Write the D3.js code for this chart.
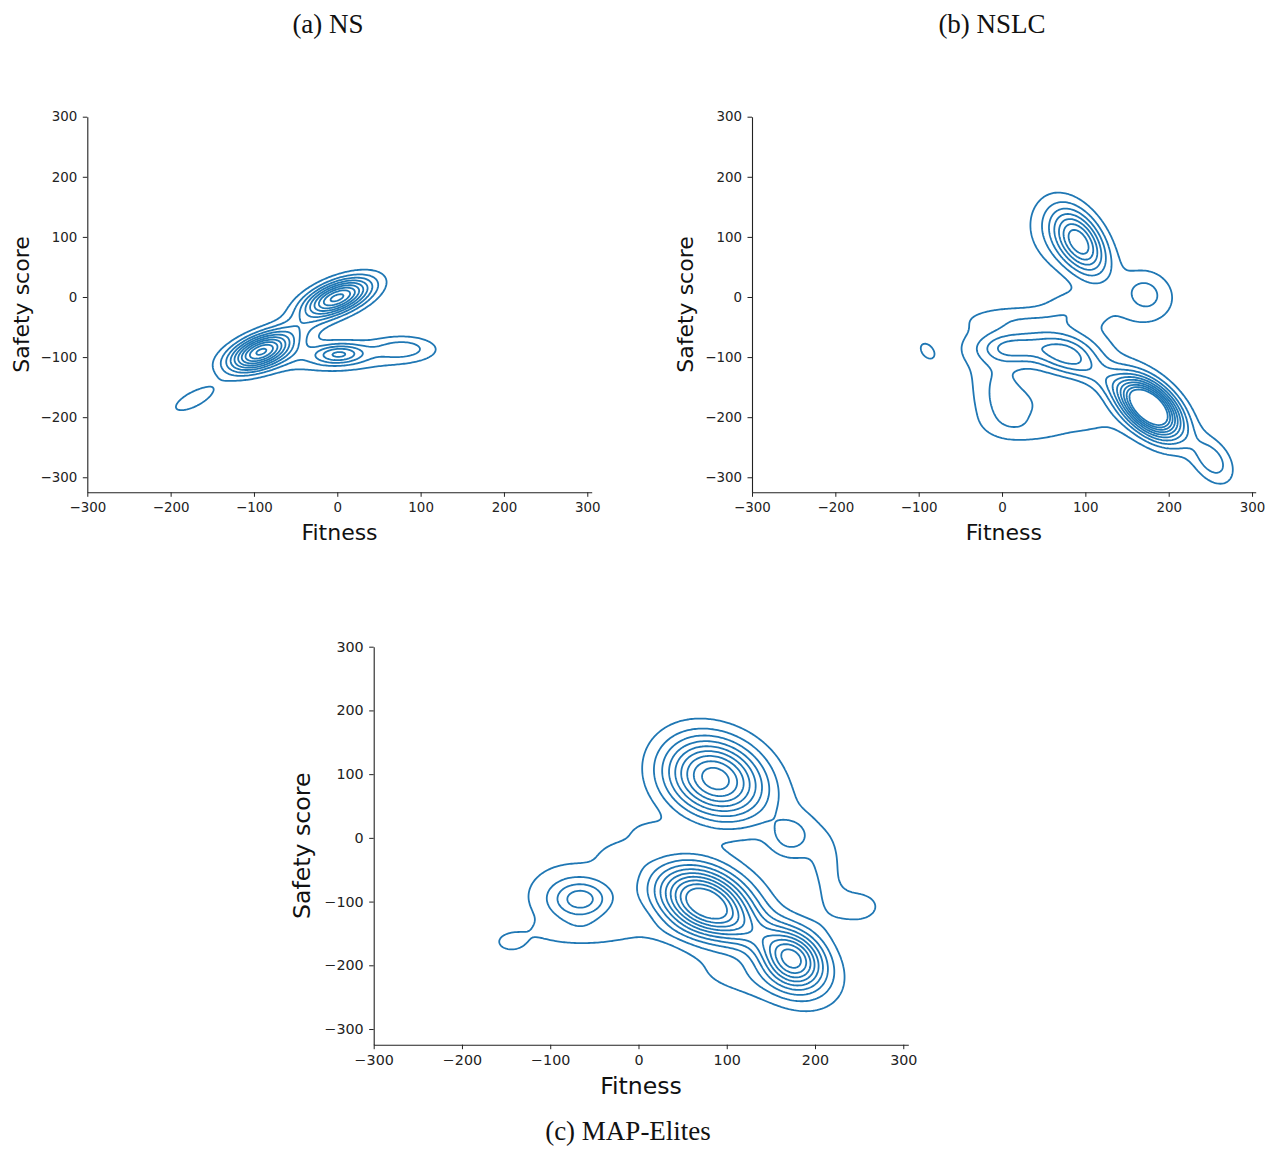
<!DOCTYPE html>
<html>
<head>
<meta charset="utf-8">
<script src="https://cdn.jsdelivr.net/npm/d3@7"></script>
<style>
  body { margin: 0; background: #fff; }
  svg { display: block; }
</style>
</head>
<body>
<script>
// tick labels shared by all three panels
var xTicks = [-300, -200, -100, 0, 100, 200, 300];
var yTicks = [-300, -200, -100, 0, 100, 200, 300];

// density bumps: [fitness, safety, sdFitness, sdSafety, corr, height]
var nsPeaks = [
    [-92, -91, 26, 22, 0.5, 0.95],
    [0, -1, 28, 22, 0.55, 0.93],
    [2, -95, 20, 11, 0.1, 0.36],
    [80, -85, 26, 14, 0.0, 0.2],
    [-5, -100, 70, 20, 0.1, 0.17],
    [-45, -50, 25, 20, 0.5, 0.12],
    [-172, -170, 20, 17, 0.7, 0.18]
];
var nslcPeaks = [
    [94, 90, 22, 38, -0.45, 0.72],
    [62, 105, 28, 45, -0.2, 0.14],
    [172, 6, 18, 24, -0.1, 0.15],
    [170, -5, 40, 45, 0.0, 0.1],
    [85, -15, 25, 20, 0.0, 0.12],
    [76, -95, 28, 24, -0.2, 0.36],
    [10, -85, 25, 16, 0.0, 0.25],
    [35, -80, 60, 35, 0.0, 0.17],
    [20, -35, 50, 15, 0.0, 0.1],
    [178, -185, 25, 34, -0.5, 1.35],
    [125, -140, 40, 36, -0.8, 0.22],
    [252, -272, 18, 28, -0.4, 0.26],
    [12, -185, 25, 30, 0.0, 0.17],
    [-10, -150, 30, 60, 0.0, 0.08],
    [-5, -140, 18, 25, 0.0, 0.06],
    [90, -190, 45, 30, -0.4, 0.14],
    [40, -225, 40, 18, -0.3, 0.08],
    [-90, -90, 9, 14, -0.4, 0.12]
];
var mePeaks = [
    [90, 92, 38, 44, -0.2, 0.93],
    [50, 100, 30, 45, 0.0, 0.09],
    [74, -100, 38, 40, -0.3, 1.1],
    [175, -190, 24, 32, -0.2, 0.75],
    [180, -215, 40, 45, -0.3, 0.15],
    [-65, -97, 22, 20, 0.0, 0.3],
    [-75, -90, 45, 45, 0.0, 0.17],
    [172, 3, 15, 19, 0.0, 0.17],
    [185, 5, 30, 45, 0.0, 0.09],
    [215, -50, 14, 42, 0.0, 0.1],
    [248, -108, 28, 26, 0.0, 0.13],
    [-145, -165, 14, 12, 0.0, 0.12],
    [-50, -150, 60, 15, 0.0, 0.1],
    [10, 10, 20, 15, 0.0, 0.1],
    [-20, -25, 20, 18, 0.0, 0.1],
    [110, -220, 45, 25, -0.3, 0.1],
    [125, -145, 40, 36, -0.7, 0.2]
];

// iso-density levels, same spacing in every panel
var nsLevels = [0.1, 0.2, 0.3, 0.4, 0.5, 0.6, 0.7, 0.8, 0.9, 1.0];
var nslcLevels = [0.1, 0.2, 0.3, 0.4, 0.5, 0.6, 0.7, 0.8, 0.9, 1.0];
var meLevels = [0.1, 0.2, 0.3, 0.4, 0.5, 0.6, 0.7, 0.8, 0.9, 1.0];

var titles = ["(a) NS", "(b) NSLC", "(c) MAP-Elites"];

var panels = [
    {title: titles[0], peaks: nsPeaks, levels: nsLevels,
     xr: [87.3, 591.7], yr: [492.3, 116.7], xd: [-300, 305.3], yd: [-325, 300],
     tick: 13.4, lab: 22, labX: 28.5, tx: 328, ty: 33},
    {title: titles[1], peaks: nslcPeaks, levels: nslcLevels,
     xr: [752, 1255.7], yr: [492.3, 116.7], xd: [-300, 304.4], yd: [-325, 300],
     tick: 13.4, lab: 22, labX: 693.2, tx: 992, ty: 33},
    {title: titles[2], peaks: mePeaks, levels: meLevels,
     xr: [373.7, 908.3], yr: [1044.7, 646.7], xd: [-300, 305.7], yd: [-324.6, 300],
     tick: 14.3, lab: 23.6, labX: 309.8, tx: 628, ty: 1140}
];

var svg = d3.select("body").append("svg")
    .attr("width", 1285)
    .attr("height", 1151);

svg.append("rect").attr("width", 1285).attr("height", 1151).attr("fill", "#fff");

// grid the KDE is evaluated on (data units)
var gx0 = -360, gx1 = 360, gy0 = -380, gy1 = 360, step = 2;
var nx = Math.round((gx1 - gx0) / step) + 1;
var ny = Math.round((gy1 - gy0) / step) + 1;

function density(peaks, x, y) {
    var s = 0;
    peaks.forEach(function(p) {
        var dx = (x - p[0]) / p[2], dy = (y - p[1]) / p[3], r = p[4];
        s += p[5] * Math.exp(-0.5 / (1 - r * r) * (dx * dx - 2 * r * dx * dy + dy * dy));
    });
    return s;
}

panels.forEach(function(P, k) {
    var x = d3.scaleLinear().domain(P.xd).range(P.xr);
    var y = d3.scaleLinear().domain(P.yd).range(P.yr);

    var g = svg.append("g");

    var clipId = "clip" + k;
    svg.append("clipPath").attr("id", clipId)
        .append("rect")
        .attr("x", P.xr[0]).attr("y", P.yr[1])
        .attr("width", P.xr[1] - P.xr[0]).attr("height", P.yr[0] - P.yr[1]);

    var values = new Float64Array(nx * ny);
    for (var j = 0; j < ny; j++) {
        for (var i = 0; i < nx; i++) {
            values[j * nx + i] = density(P.peaks, gx0 + i * step, gy0 + j * step);
        }
    }

    var contours = d3.contours().size([nx, ny]).thresholds(P.levels)(values);

    var proj = d3.geoTransform({
        point: function(px, py) {
            this.stream.point(x(gx0 + (px - 0.5) * step), y(gy0 + (py - 0.5) * step));
        }
    });
    var path = d3.geoPath(proj);

    g.append("g")
        .attr("clip-path", "url(#" + clipId + ")")
        .selectAll("path")
        .data(contours)
        .enter().append("path")
        .attr("d", path)
        .attr("fill", "none")
        .attr("stroke", "#1f77b4")
        .attr("stroke-width", 1.8)
        .attr("stroke-linejoin", "round");

    // axes
    var xAxis = d3.axisBottom(x).tickValues(xTicks).tickSize(4.5).tickPadding(5.5).tickSizeOuter(0);
    var yAxis = d3.axisLeft(y).tickValues(yTicks).tickSize(4.5).tickPadding(5.5).tickSizeOuter(0);

    var ax = g.append("g")
        .attr("transform", "translate(0," + P.yr[0] + ")")
        .call(xAxis);
    var ay = g.append("g")
        .attr("transform", "translate(" + P.xr[0] + ",0)")
        .call(yAxis);

    [ax, ay].forEach(function(a) {
        a.selectAll("text")
            .attr("fill", "#222")
            .style("font-family", "DejaVu Sans")
            .style("font-size", P.tick + "px");
        a.selectAll("line").attr("stroke", "#222").attr("stroke-width", 1);
        a.select(".domain").attr("stroke", "#222").attr("stroke-width", 1.1);
    });

    g.append("text")
        .attr("x", (P.xr[0] + P.xr[1]) / 2)
        .attr("y", P.yr[0] + (k == 2 ? 49.5 : 47.2))
        .attr("text-anchor", "middle")
        .style("font-family", "DejaVu Sans")
        .style("font-size", P.lab + "px")
        .attr("fill", "#111")
        .text("Fitness");

    g.append("text")
        .attr("transform", "translate(" + P.labX + "," + (P.yr[0] + P.yr[1]) / 2 + ") rotate(-90)")
        .attr("text-anchor", "middle")
        .style("font-family", "DejaVu Sans")
        .style("font-size", P.lab + "px")
        .attr("fill", "#111")
        .text("Safety score");

    svg.append("text")
        .attr("x", P.tx)
        .attr("y", P.ty)
        .attr("text-anchor", "middle")
        .style("font-family", "Liberation Serif")
        .style("font-size", "27px")
        .attr("fill", "#111")
        .text(P.title);
});
</script>
</body>
</html>
